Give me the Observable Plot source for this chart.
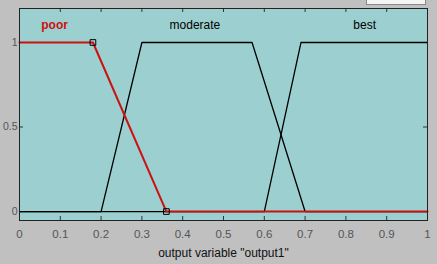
<!DOCTYPE html>
<html><head><meta charset="utf-8">
<script src="https://cdn.jsdelivr.net/npm/d3@7"></script>
<script src="https://cdn.jsdelivr.net/npm/@observablehq/plot@0.6"></script>
<style>
html,body{margin:0;padding:0;background:#c0c0c0;}
#chart{position:relative;width:437px;height:264px;overflow:hidden;}
#topbox{position:absolute;left:366px;top:-2px;width:58px;height:5px;background:#f4f4f4;border:1px solid #888;}
</style></head>
<body><div id="chart"><div id="topbox"></div></div>
<script>
const xTicks = [0,0.1,0.2,0.3,0.4,0.5,0.6,0.7,0.8,0.9,1];
const yTicks = [0,0.5,1];
const poor = [[0,1],[0.18,1],[0.36,0],[1,0]];
const moderate = [[0,0],[0.2,0],[0.3,1],[0.57,1],[0.7,0],[1,0]];
const best = [[0,0],[0.6,0],[0.69,1],[1,1]];
const markers = [[0.18,1],[0.36,0]];
const poorLabel = [{name:"poor", x:0.086}];
const otherLabels = [
  {name:"moderate", x:0.43},
  {name:"best", x:0.846}
];
const xLabel = 'output variable "output1"';

const yDom = [-0.053, 1.201];
const tk = 4/169;
const tkx = 4/408;

const chart = Plot.plot({
  width: 437, height: 264,
  marginLeft: 19, marginRight: 10, marginTop: 8, marginBottom: 44,
  style: {background: "transparent", fontFamily: "Liberation Sans, Arial, sans-serif"},
  x: {domain: [0,1]},
  y: {domain: yDom},
  marks: [
    Plot.frame({fill: "#9ccfcf"}),
    Plot.ruleX(xTicks.slice(1,-1), {x: d=>d, y1: yDom[0], y2: yDom[0]+tk, stroke: "#333"}),
    Plot.ruleX(xTicks.slice(1,-1), {x: d=>d, y1: yDom[1], y2: yDom[1]-tk, stroke: "#333"}),
    Plot.ruleY(yTicks, {y: d=>d, x1: 0, x2: tkx, stroke: "#333"}),
    Plot.ruleY(yTicks, {y: d=>d, x1: 1, x2: 1-tkx, stroke: "#333"}),
    Plot.axisX(xTicks, {tickSize: 0, tickPadding: 9, fontSize: 11.5, fill: "#555", label: null, tickFormat: d=>String(d)}),
    Plot.axisY(yTicks, {tickSize: 0, tickPadding: 2, fontSize: 10.5, fill: "#555", label: null, tickFormat: d=>String(d)}),
    Plot.line(moderate, {x: d=>d[0], y: d=>d[1], stroke: "#000", strokeWidth: 1.3}),
    Plot.line(best, {x: d=>d[0], y: d=>d[1], stroke: "#000", strokeWidth: 1.3}),
    Plot.line(poor, {x: d=>d[0], y: d=>d[1], stroke: "#cc1111", strokeWidth: 2}),
    Plot.dot(markers, {x: d=>d[0], y: d=>d[1], symbol: "square", r: 3.2, stroke: "#000", fill: "none", strokeWidth: 1}),
    Plot.text(poorLabel, {x: "x", y: 1.1, text: "name", fill: "#cc1111", fontSize: 12, fontWeight: "bold"}),
    Plot.text(otherLabels, {x: "x", y: 1.1, text: "name", fill: "#000", fontSize: 12}),
    Plot.text([xLabel], {frameAnchor: "bottom", dy: 36, text: d=>d, fontSize: 12, fill: "#111"}),
    Plot.frame({stroke: "#222", strokeWidth: 1})
  ]
});
document.getElementById("chart").appendChild(chart);
</script></body></html>
